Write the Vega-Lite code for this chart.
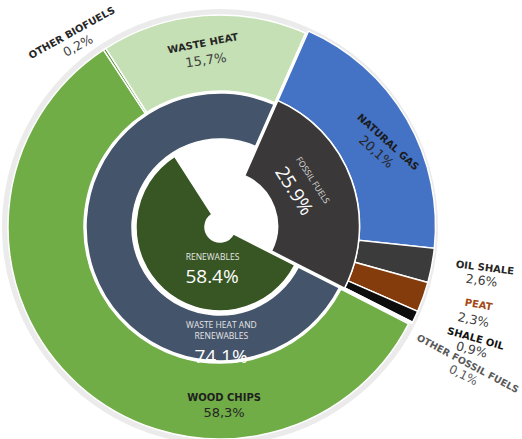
{
  "$schema": "https://vega.github.io/schema/vega-lite/v6.json",
  "width": 440,
  "height": 424,
  "autosize": {"type": "none"},
  "padding": {"left": 0, "top": 15, "right": 82, "bottom": 0},
  "background": "white",
  "config": {"view": {"stroke": null}},
  "datasets": {
    "outer": [
      {"cat": "Natural gas", "v": 20.1, "o": 1, "grp": "fossil", "name": "NATURAL GAS", "pct": "20,1%"},
      {"cat": "Oil shale", "v": 2.6, "o": 2, "grp": "fossil", "name": "OIL SHALE", "pct": "2,6%"},
      {"cat": "Peat", "v": 2.3, "o": 3, "grp": "fossil", "name": "PEAT", "pct": "2,3%"},
      {"cat": "Shale oil", "v": 0.9, "o": 4, "grp": "fossil", "name": "SHALE OIL", "pct": "0,9%"},
      {"cat": "Other fossil fuels", "v": 0.1, "o": 5, "grp": "fossil", "name": "OTHER FOSSIL FUELS", "pct": "0,1%"},
      {"cat": "Wood chips", "v": 58.3, "o": 6, "grp": "renew", "name": "WOOD CHIPS", "pct": "58,3%"},
      {"cat": "Other biofuels", "v": 0.2, "o": 7, "grp": "renew", "name": "OTHER BIOFUELS", "pct": "0,2%"},
      {"cat": "Waste heat", "v": 15.7, "o": 8, "grp": "renew", "name": "WASTE HEAT", "pct": "15,7%"}
    ],
    "middle": [
      {"cat": "Fossil fuels", "v": 25.9, "o": 1, "grp": "fossil", "name": "FOSSIL FUELS", "pct": "25.9%"},
      {"cat": "Waste heat and renewables", "v": 74.1, "o": 2, "grp": "renew", "name": "WASTE HEAT AND\nRENEWABLES", "pct": "74.1%"}
    ],
    "inner": [
      {"cat": "Fossil fuels", "v": 25.9, "o": 1, "grp": "fossil", "name": "", "pct": ""},
      {"cat": "Renewables", "v": 58.4, "o": 2, "grp": "renew", "name": "RENEWABLES", "pct": "58.4%"},
      {"cat": "Waste heat", "v": 15.7, "o": 3, "grp": "renew", "name": "", "pct": ""}
    ]
  },
  "resolve": {"scale": {"theta": "independent"}},
  "layer": [
    {
      "data": {"name": "outer"},
      "mark": {"type": "arc", "radius": 218, "radius2": 200, "color": "#ebebeb"},
      "encoding": {
        "theta": {"field": "v", "type": "quantitative", "stack": true, "scale": {"range": [0.4154, 6.6986]}},
        "order": {"field": "o"}
      }
    },
    {
      "data": {"name": "outer"},
      "mark": {"type": "arc", "radius": 212, "radius2": 136, "stroke": "white", "strokeWidth": 1.5},
      "encoding": {
        "theta": {"field": "v", "type": "quantitative", "stack": true, "scale": {"range": [0.4154, 6.6986]}},
        "order": {"field": "o"},
        "color": {"field": "cat", "type": "nominal", "legend": null,
          "scale": {"domain": ["Natural gas", "Oil shale", "Peat", "Shale oil", "Other fossil fuels", "Wood chips", "Other biofuels", "Waste heat", "Fossil fuels", "Waste heat and renewables", "Renewables"],
                    "range": ["#4472c4", "#3b3b3b", "#843c0c", "#0d0d0d", "#c55a11", "#70ad47", "#4e8a2c", "#c5e0b4", "#3a3838", "#44546a", "#375623"]}},
        "opacity": {"condition": {"test": "datum.grp === 'fossil'", "value": 0}, "value": 1}
      }
    },
    {
      "data": {"name": "outer"},
      "mark": {"type": "arc", "radius": 213, "radius2": 137, "stroke": "white", "strokeWidth": 1.5, "xOffset": 2.5, "yOffset": -1},
      "encoding": {
        "theta": {"field": "v", "type": "quantitative", "stack": true, "scale": {"range": [0.4154, 6.6986]}},
        "order": {"field": "o"},
        "color": {"field": "cat", "type": "nominal", "legend": null,
          "scale": {"domain": ["Natural gas", "Oil shale", "Peat", "Shale oil", "Other fossil fuels", "Wood chips", "Other biofuels", "Waste heat", "Fossil fuels", "Waste heat and renewables", "Renewables"],
                    "range": ["#4472c4", "#3b3b3b", "#843c0c", "#0d0d0d", "#c55a11", "#70ad47", "#4e8a2c", "#c5e0b4", "#3a3838", "#44546a", "#375623"]}},
        "opacity": {"condition": {"test": "datum.grp === 'fossil'", "value": 1}, "value": 0}
      }
    },
    {
      "data": {"name": "middle"},
      "mark": {"type": "arc", "radius": 134, "radius2": 88, "stroke": "white", "strokeWidth": 1.5},
      "encoding": {
        "theta": {"field": "v", "type": "quantitative", "stack": true, "scale": {"range": [0.4154, 6.6986]}},
        "order": {"field": "o"},
        "color": {"field": "cat", "type": "nominal", "legend": null,
          "scale": {"domain": ["Natural gas", "Oil shale", "Peat", "Shale oil", "Other fossil fuels", "Wood chips", "Other biofuels", "Waste heat", "Fossil fuels", "Waste heat and renewables", "Renewables"],
                    "range": ["#4472c4", "#3b3b3b", "#843c0c", "#0d0d0d", "#c55a11", "#70ad47", "#4e8a2c", "#c5e0b4", "#3a3838", "#44546a", "#375623"]}},
        "opacity": {"condition": {"test": "datum.grp === 'fossil'", "value": 0}, "value": 1}
      }
    },
    {
      "data": {"name": "middle"},
      "mark": {"type": "arc", "radius": 137, "radius2": 55, "stroke": "white", "strokeWidth": 1.5, "xOffset": 2.5, "yOffset": -1},
      "encoding": {
        "theta": {"field": "v", "type": "quantitative", "stack": true, "scale": {"range": [0.4154, 6.6986]}},
        "order": {"field": "o"},
        "color": {"field": "cat", "type": "nominal", "legend": null,
          "scale": {"domain": ["Natural gas", "Oil shale", "Peat", "Shale oil", "Other fossil fuels", "Wood chips", "Other biofuels", "Waste heat", "Fossil fuels", "Waste heat and renewables", "Renewables"],
                    "range": ["#4472c4", "#3b3b3b", "#843c0c", "#0d0d0d", "#c55a11", "#70ad47", "#4e8a2c", "#c5e0b4", "#3a3838", "#44546a", "#375623"]}},
        "opacity": {"condition": {"test": "datum.grp === 'fossil'", "value": 1}, "value": 0}
      }
    },
    {
      "data": {"name": "inner"},
      "mark": {"type": "arc", "radius": 84, "radius2": 15, "stroke": "white", "strokeWidth": 1.5},
      "encoding": {
        "theta": {"field": "v", "type": "quantitative", "stack": true, "scale": {"range": [0.4154, 6.6986]}},
        "order": {"field": "o"},
        "color": {"field": "cat", "type": "nominal", "legend": null,
          "scale": {"domain": ["Natural gas", "Oil shale", "Peat", "Shale oil", "Other fossil fuels", "Wood chips", "Other biofuels", "Waste heat", "Fossil fuels", "Waste heat and renewables", "Renewables"],
                    "range": ["#4472c4", "#3b3b3b", "#843c0c", "#0d0d0d", "#c55a11", "#70ad47", "#4e8a2c", "#c5e0b4", "#3a3838", "#44546a", "#375623"]}},
        "opacity": {"condition": {"test": "datum.cat === 'Renewables'", "value": 1}, "value": 0}
      }
    },
    {"data": {"name": "outer"}, "mark": {"type": "text", "radius": 244, "thetaOffset": -0.077, "angle": -29, "font": "DejaVu Sans", "fontSize": 10, "fontWeight": "bold", "color": "#262626"},
     "encoding": {"theta": {"field": "v", "type": "quantitative", "stack": true, "scale": {"range": [0.4154, 6.6986]}}, "order": {"field": "o"},
       "text": {"condition": {"test": "datum.cat === 'Other biofuels'", "field": "name"}, "value": ""}}},
    {"data": {"name": "outer"}, "mark": {"type": "text", "radius": 230, "thetaOffset": -0.089, "angle": -28, "font": "DejaVu Sans", "fontSize": 12.5, "color": "#404040"},
     "encoding": {"theta": {"field": "v", "type": "quantitative", "stack": true, "scale": {"range": [0.4154, 6.6986]}}, "order": {"field": "o"},
       "text": {"condition": {"test": "datum.cat === 'Other biofuels'", "field": "pct"}, "value": ""}}},
    {"data": {"name": "outer"}, "mark": {"type": "text", "radius": 184, "thetaOffset": -0.016, "angle": -11, "font": "DejaVu Sans", "fontSize": 10, "fontWeight": "bold", "color": "#262626"},
     "encoding": {"theta": {"field": "v", "type": "quantitative", "stack": true, "scale": {"range": [0.4154, 6.6986]}}, "order": {"field": "o"},
       "text": {"condition": {"test": "datum.cat === 'Waste heat'", "field": "name"}, "value": ""}}},
    {"data": {"name": "outer"}, "mark": {"type": "text", "radius": 167, "thetaOffset": -0.007, "angle": -8, "font": "DejaVu Sans", "fontSize": 13, "color": "#404040"},
     "encoding": {"theta": {"field": "v", "type": "quantitative", "stack": true, "scale": {"range": [0.4154, 6.6986]}}, "order": {"field": "o"},
       "text": {"condition": {"test": "datum.cat === 'Waste heat'", "field": "pct"}, "value": ""}}},
    {"data": {"name": "outer"}, "mark": {"type": "text", "radius": 188, "thetaOffset": 0.058, "angle": 42, "font": "DejaVu Sans", "fontSize": 10, "fontWeight": "bold", "color": "#1a1a1a"},
     "encoding": {"theta": {"field": "v", "type": "quantitative", "stack": true, "scale": {"range": [0.4154, 6.6986]}}, "order": {"field": "o"},
       "text": {"condition": {"test": "datum.cat === 'Natural gas'", "field": "name"}, "value": ""}}},
    {"data": {"name": "outer"}, "mark": {"type": "text", "radius": 173, "thetaOffset": 0.077, "angle": 42, "font": "DejaVu Sans", "fontSize": 13, "color": "#262626"},
     "encoding": {"theta": {"field": "v", "type": "quantitative", "stack": true, "scale": {"range": [0.4154, 6.6986]}}, "order": {"field": "o"},
       "text": {"condition": {"test": "datum.cat === 'Natural gas'", "field": "pct"}, "value": ""}}},
    {"data": {"name": "outer"}, "mark": {"type": "text", "radius": 268, "thetaOffset": -0.033, "angle": 7, "font": "DejaVu Sans", "fontSize": 10, "fontWeight": "bold", "color": "#262626"},
     "encoding": {"theta": {"field": "v", "type": "quantitative", "stack": true, "scale": {"range": [0.4154, 6.6986]}}, "order": {"field": "o"},
       "text": {"condition": {"test": "datum.cat === 'Oil shale'", "field": "name"}, "value": ""}}},
    {"data": {"name": "outer"}, "mark": {"type": "text", "radius": 267, "thetaOffset": 0.016, "angle": 7, "font": "DejaVu Sans", "fontSize": 12.5, "color": "#404040"},
     "encoding": {"theta": {"field": "v", "type": "quantitative", "stack": true, "scale": {"range": [0.4154, 6.6986]}}, "order": {"field": "o"},
       "text": {"condition": {"test": "datum.cat === 'Oil shale'", "field": "pct"}, "value": ""}}},
    {"data": {"name": "outer"}, "mark": {"type": "text", "radius": 270, "thetaOffset": -0.047, "angle": 10, "font": "DejaVu Sans", "fontSize": 10, "fontWeight": "bold", "color": "#a34a16"},
     "encoding": {"theta": {"field": "v", "type": "quantitative", "stack": true, "scale": {"range": [0.4154, 6.6986]}}, "order": {"field": "o"},
       "text": {"condition": {"test": "datum.cat === 'Peat'", "field": "name"}, "value": ""}}},
    {"data": {"name": "outer"}, "mark": {"type": "text", "radius": 270, "thetaOffset": 0.012, "angle": 12, "font": "DejaVu Sans", "fontSize": 12.5, "color": "#404040"},
     "encoding": {"theta": {"field": "v", "type": "quantitative", "stack": true, "scale": {"range": [0.4154, 6.6986]}}, "order": {"field": "o"},
       "text": {"condition": {"test": "datum.cat === 'Peat'", "field": "pct"}, "value": ""}}},
    {"data": {"name": "outer"}, "mark": {"type": "text", "radius": 279, "thetaOffset": -0.028, "angle": 16, "font": "DejaVu Sans", "fontSize": 10, "fontWeight": "bold", "color": "#111111"},
     "encoding": {"theta": {"field": "v", "type": "quantitative", "stack": true, "scale": {"range": [0.4154, 6.6986]}}, "order": {"field": "o"},
       "text": {"condition": {"test": "datum.cat === 'Shale oil'", "field": "name"}, "value": ""}}},
    {"data": {"name": "outer"}, "mark": {"type": "text", "radius": 280, "thetaOffset": 0.014, "angle": 15, "font": "DejaVu Sans", "fontSize": 12.5, "color": "#404040"},
     "encoding": {"theta": {"field": "v", "type": "quantitative", "stack": true, "scale": {"range": [0.4154, 6.6986]}}, "order": {"field": "o"},
       "text": {"condition": {"test": "datum.cat === 'Shale oil'", "field": "pct"}, "value": ""}}},
    {"data": {"name": "outer"}, "mark": {"type": "text", "radius": 283, "thetaOffset": 0.033, "angle": 28, "font": "DejaVu Sans", "fontSize": 9.5, "fontWeight": "bold", "color": "#595959"},
     "encoding": {"theta": {"field": "v", "type": "quantitative", "stack": true, "scale": {"range": [0.4154, 6.6986]}}, "order": {"field": "o"},
       "text": {"condition": {"test": "datum.cat === 'Other fossil fuels'", "field": "name"}, "value": ""}}},
    {"data": {"name": "outer"}, "mark": {"type": "text", "radius": 285, "thetaOffset": 0.075, "angle": 27, "font": "DejaVu Sans", "fontSize": 12, "color": "#595959"},
     "encoding": {"theta": {"field": "v", "type": "quantitative", "stack": true, "scale": {"range": [0.4154, 6.6986]}}, "order": {"field": "o"},
       "text": {"condition": {"test": "datum.cat === 'Other fossil fuels'", "field": "pct"}, "value": ""}}},
    {"data": {"name": "outer"}, "mark": {"type": "text", "radius": 171, "thetaOffset": -0.756, "angle": 0, "font": "DejaVu Sans", "fontSize": 10, "fontWeight": "bold", "color": "#1f1f1f"},
     "encoding": {"theta": {"field": "v", "type": "quantitative", "stack": true, "scale": {"range": [0.4154, 6.6986]}}, "order": {"field": "o"},
       "text": {"condition": {"test": "datum.cat === 'Wood chips'", "field": "name"}, "value": ""}}},
    {"data": {"name": "outer"}, "mark": {"type": "text", "radius": 186, "thetaOffset": -0.754, "angle": 0, "font": "DejaVu Sans", "fontSize": 13, "color": "#262626"},
     "encoding": {"theta": {"field": "v", "type": "quantitative", "stack": true, "scale": {"range": [0.4154, 6.6986]}}, "order": {"field": "o"},
       "text": {"condition": {"test": "datum.cat === 'Wood chips'", "field": "pct"}, "value": ""}}},
    {"data": {"name": "middle"}, "mark": {"type": "text", "radius": 104, "thetaOffset": -0.126, "angle": 57, "font": "Open Sans", "fontSize": 8.5, "color": "#e0e0e0"},
     "encoding": {"theta": {"field": "v", "type": "quantitative", "stack": true, "scale": {"range": [0.4154, 6.6986]}}, "order": {"field": "o"},
       "text": {"condition": {"test": "datum.cat === 'Fossil fuels'", "field": "name"}, "value": ""}}},
    {"data": {"name": "middle"}, "mark": {"type": "text", "radius": 82, "thetaOffset": -0.112, "angle": 58, "font": "Open Sans", "fontSize": 19, "color": "#ffffff"},
     "encoding": {"theta": {"field": "v", "type": "quantitative", "stack": true, "scale": {"range": [0.4154, 6.6986]}}, "order": {"field": "o"},
       "text": {"condition": {"test": "datum.cat === 'Fossil fuels'", "field": "pct"}, "value": ""}}},
    {"data": {"name": "middle"}, "mark": {"type": "text", "radius": 98.5, "thetaOffset": -1.243, "angle": 0, "font": "Open Sans", "fontSize": 8.5, "lineBreak": "\n", "lineHeight": 11, "color": "#e6e6e6"},
     "encoding": {"theta": {"field": "v", "type": "quantitative", "stack": true, "scale": {"range": [0.4154, 6.6986]}}, "order": {"field": "o"},
       "text": {"condition": {"test": "datum.cat === 'Waste heat and renewables'", "field": "name"}, "value": ""}}},
    {"data": {"name": "middle"}, "mark": {"type": "text", "radius": 130, "thetaOffset": -1.237, "angle": 0, "font": "Open Sans", "fontSize": 19, "color": "#ffffff"},
     "encoding": {"theta": {"field": "v", "type": "quantitative", "stack": true, "scale": {"range": [0.4154, 6.6986]}}, "order": {"field": "o"},
       "text": {"condition": {"test": "datum.cat === 'Waste heat and renewables'", "field": "pct"}, "value": ""}}},
    {"data": {"name": "inner"}, "mark": {"type": "text", "radius": 30.5, "thetaOffset": -0.487, "angle": 0, "font": "Open Sans", "fontSize": 8.5, "color": "#e6e6e6"},
     "encoding": {"theta": {"field": "v", "type": "quantitative", "stack": true, "scale": {"range": [0.4154, 6.6986]}}, "order": {"field": "o"},
       "text": {"condition": {"test": "datum.cat === 'Renewables'", "field": "name"}, "value": ""}}},
    {"data": {"name": "inner"}, "mark": {"type": "text", "radius": 50.6, "thetaOffset": -0.578, "angle": 0, "font": "Open Sans", "fontSize": 19, "color": "#ffffff"},
     "encoding": {"theta": {"field": "v", "type": "quantitative", "stack": true, "scale": {"range": [0.4154, 6.6986]}}, "order": {"field": "o"},
       "text": {"condition": {"test": "datum.cat === 'Renewables'", "field": "pct"}, "value": ""}}}
  ]
}
